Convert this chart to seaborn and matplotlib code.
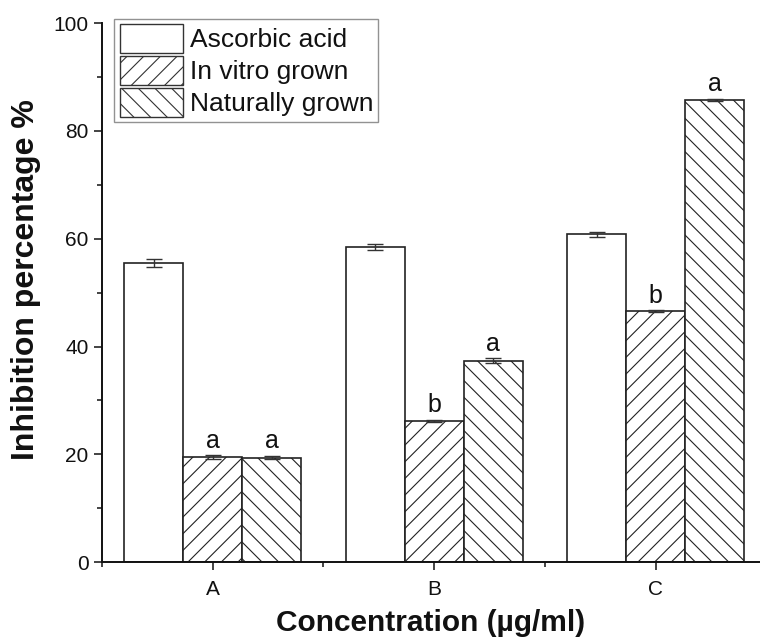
import matplotlib
matplotlib.use("Agg")
import matplotlib.pyplot as plt
import seaborn as sns
import pandas as pd
from matplotlib.patches import Patch
from matplotlib.ticker import MultipleLocator, FixedLocator

categories = ["A", "B", "C"]
series = ["Ascorbic acid", "In vitro grown", "Naturally grown"]
ascorbic = [55.5, 58.5, 60.8]
in_vitro = [19.5, 26.2, 46.6]
naturally = [19.4, 37.4, 85.8]
ascorbic_err = [0.8, 0.6, 0.4]
in_vitro_err = [0.3, 0.2, 0.15]
naturally_err = [0.3, 0.4, 0.2]
letters_in_vitro = ["a", "b", "b"]
letters_naturally = ["a", "a", "a"]

values = [ascorbic, in_vitro, naturally]
errors = [ascorbic_err, in_vitro_err, naturally_err]
letters = [None, letters_in_vitro, letters_naturally]
hatches = ["", "//", "\\\\"]

rows = []
for s, vals in zip(series, values):
    for c, v in zip(categories, vals):
        rows.append({"cat": c, "series": s, "val": v})
df = pd.DataFrame(rows)

sns.set_style("ticks")
plt.rcParams["font.family"] = ["Liberation Sans", "DejaVu Sans"]
plt.rcParams["hatch.linewidth"] = 0.8
plt.rcParams["hatch.color"] = "#222222"

fig = plt.figure(figsize=(7.6, 6.41), dpi=100)
ax = fig.add_axes([0.134, 0.123, 0.866, 0.841])

sns.barplot(data=df, x="cat", y="val", hue="series", order=categories,
            hue_order=series, errorbar=None, width=0.8, ax=ax,
            palette=["white"] * 3, edgecolor="#222222", linewidth=1.2,
            legend=False)

bar_containers = list(ax.containers)
for i, cont in enumerate(bar_containers):
    for j, bar in enumerate(cont.patches):
        bar.set_hatch(hatches[i])
        bar.set_facecolor("white")
        bar.set_edgecolor("#222222")
        cx = bar.get_x() + bar.get_width() / 2
        h = bar.get_height()
        ax.errorbar(cx, h, yerr=errors[i][j], color="#333333", capsize=6,
                    elinewidth=1.0, capthick=1.0, fmt="none", zorder=5)
        if letters[i] is not None:
            ax.text(cx, h + errors[i][j] + 1.4, letters[i][j], ha="center",
                    va="baseline", fontsize=18, color="#111111")

ax.set_ylim(0, 100)
ax.set_xlim(-0.5, 2.47)
ax.yaxis.set_major_locator(MultipleLocator(20))
ax.yaxis.set_minor_locator(MultipleLocator(10))
ax.xaxis.set_minor_locator(FixedLocator([-0.5, 0.5, 1.5]))
ax.tick_params(axis="both", which="major", length=6, width=1.1, labelsize=15,
               direction="out", color="#111111", labelcolor="#111111")
ax.tick_params(axis="x", which="major", pad=7)
ax.tick_params(axis="both", which="minor", length=3.5, width=1.1,
               direction="out", color="#111111")
for side in ["top", "right"]:
    ax.spines[side].set_visible(False)
for side in ["left", "bottom"]:
    ax.spines[side].set_linewidth(1.4)
    ax.spines[side].set_color("#111111")

ax.set_xlabel("Concentration (µg/ml)", fontsize=21.5, fontweight="bold",
              labelpad=7, color="#111111")
ax.set_ylabel("Inhibition percentage %", fontsize=23, fontweight="bold",
              color="#111111")
ax.yaxis.set_label_coords(-0.093, 0.524)

handles = [Patch(facecolor="white", edgecolor="#333333", hatch=h, linewidth=1.0)
           for h in hatches]
leg = ax.legend(handles, series, loc="upper left", bbox_to_anchor=(0.019, 1.008),
                fontsize=19, frameon=True, fancybox=False, edgecolor="#777777",
                handlelength=2.4, handleheight=1.32, handletextpad=0.25,
                labelspacing=0.1, borderpad=0.2, borderaxespad=0.0)
leg.get_frame().set_linewidth(1.0)
for t in leg.get_texts():
    t.set_color("#111111")

fig.savefig("out.png", dpi=100)
